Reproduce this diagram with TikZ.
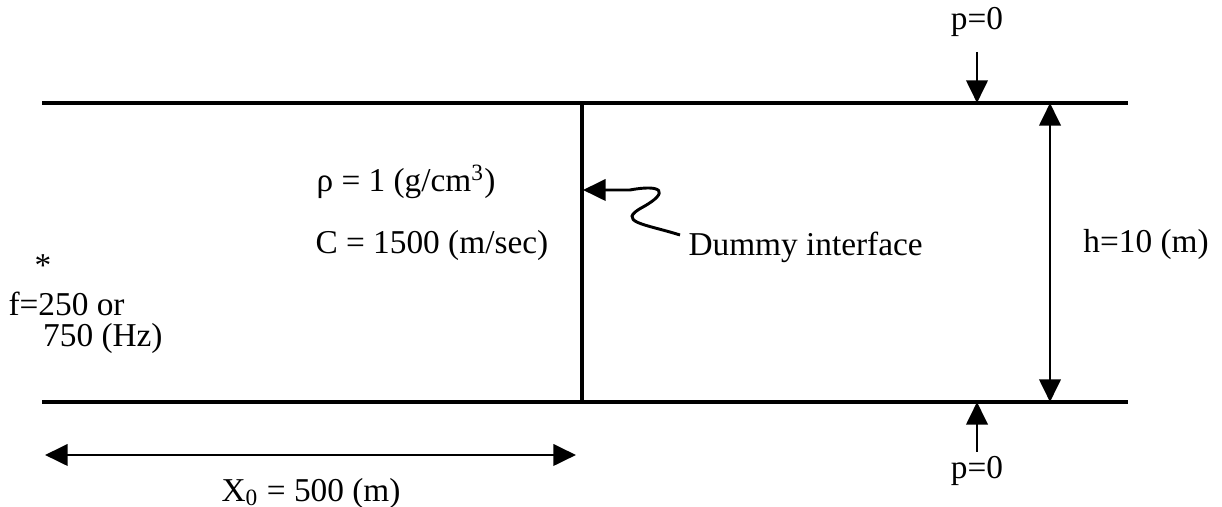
\documentclass[tikz,border=0pt]{standalone}
\usepackage{fontspec}
\setmainfont{Liberation Serif}
\usepackage{tikz}
\usetikzlibrary{arrows.meta, positioning}

\begin{document}
\begin{tikzpicture}[x=0.375pt, y=-0.375pt,
    wall/.style={line width=1.2pt},
    pointer/.style={line width=1.1pt, -{Triangle[length=8.5pt, width=8pt]}},
    dimline/.style={line width=1.1pt, {Triangle[length=8.5pt, width=8pt]}-{Triangle[length=8.5pt, width=8pt]}},
    lbl/.style={font=\fontsize{12.5}{14}\selectfont, inner sep=0pt}]
        \useasboundingbox (0,0) rectangle (1222,507);
        % channel walls
        \coordinate (topL) at (42,103);
        \coordinate (topR) at (1128,103);
        \coordinate (botL) at (42,402);
        \coordinate (botR) at (1128,402);
        \draw[wall] (topL) -- (topR);
        \draw[wall] (botL) -- (botR);
        \coordinate (ifTop) at (582,103);
        \coordinate (ifBot) at (582,402);
        \draw[wall] (ifTop) -- (ifBot);
        % labels
        \node[lbl, anchor=west] (rho) at (316,182) {ρ = 1 (g/cm\textsuperscript{3})};
        \node[lbl, anchor=west] (cvel) at (315,245) {C = 1500 (m/sec)};
        \node[lbl, anchor=west] (dummy) at (688,247) {Dummy interface};
        \node[lbl] (star) at (43,266) {*};
        \node[lbl, anchor=north west, align=left, font=\fontsize{12.5}{11.6}\selectfont]
          (freq) at (8,292) {f=250 or\\\hspace*{13pt}750 (Hz)};
        \node[lbl] (hval) at (1146,244) {h=10 (m)};
        \node[lbl] (ptop) at (977,22) {p=0};
        \node[lbl] (pbot) at (977,471) {p=0};
        \node[lbl] (xval) at (311,493) {X\textsubscript{0} = 500 (m)};
        % pressure release arrows
        \coordinate (ptopS) at (977,52);
        \coordinate (ptopE) at (977,103);
        \draw[pointer] (ptopS) -- (ptopE);
        \coordinate (pbotS) at (977,452);
        \coordinate (pbotE) at (977,402);
        \draw[pointer] (pbotS) -- (pbotE);
        % depth and range
        \coordinate (hTop) at (1050,103);
        \coordinate (hBot) at (1050,402);
        \draw[dimline] (hTop) -- (hBot);
        \coordinate (xL) at (45,455);
        \coordinate (xR) at (576,455);
        \draw[dimline] (xL) -- (xR);
        % wiggly pointer to the interface
        \coordinate (squigTail) at (680,235);
        \coordinate (squigTip) at (583,190);
        \draw[pointer] (squigTail) .. controls (645,224) and (615,222) .. (643,207)
          .. controls (670,192) and (662,184) .. (630,190) -- (squigTip);
      \end{tikzpicture}
\end{document}
